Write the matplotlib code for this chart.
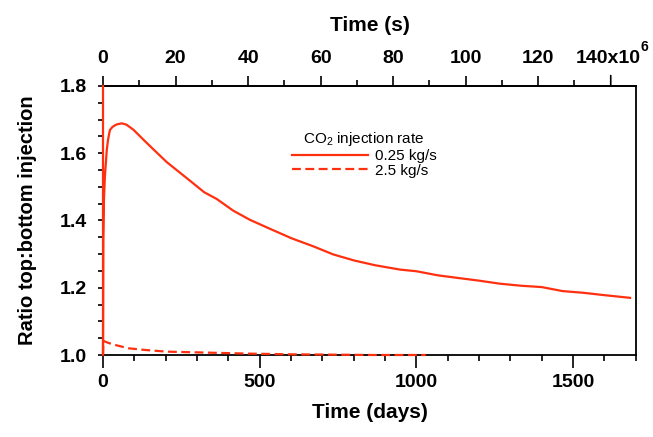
import matplotlib
matplotlib.use("Agg")
import matplotlib.pyplot as plt
from matplotlib.ticker import MultipleLocator, FuncFormatter, FixedLocator

plt.rcParams['font.family'] = ['Liberation Sans', 'DejaVu Sans']
plt.rcParams['mathtext.fontset'] = 'custom'
plt.rcParams['mathtext.rm'] = 'Liberation Sans'
plt.rcParams['mathtext.bf'] = 'Liberation Sans:bold'
plt.rcParams['mathtext.it'] = 'Liberation Sans:italic'

# Data (time in days, ratio top:bottom injection)
t_low = [0, 0, 1, 3, 6, 12, 16, 22, 30, 38, 45, 60, 75, 97, 137, 203, 270, 323, 363,
         416, 469, 536, 602, 669, 735, 802, 868, 948, 1001, 1068, 1134, 1201, 1267,
         1334, 1400, 1467, 1533, 1600, 1682]
r_low = [1.80, 1.00, 1.34, 1.46, 1.53, 1.609, 1.64, 1.669, 1.678, 1.683, 1.686,
         1.689, 1.685, 1.670, 1.633, 1.574, 1.524, 1.484, 1.464, 1.429, 1.402,
         1.374, 1.347, 1.324, 1.299, 1.281, 1.267, 1.254, 1.249, 1.237, 1.229,
         1.221, 1.212, 1.206, 1.202, 1.190, 1.185, 1.178, 1.170]

t_high = [0, 1, 17, 38, 81, 134, 203, 336, 469, 602, 735, 868, 1030]
r_high = [1.00, 1.042, 1.036, 1.030, 1.020, 1.015, 1.010, 1.007, 1.004, 1.002,
          1.001, 1.000, 1.000]

labels = ['0.25 kg/s', '2.5 kg/s']
legend_title = r'$\mathregular{CO_2}$ injection rate'
top_major = [0, 20, 40, 60, 80, 100, 120, 140]   # in units of 1e6 s
top_minor = [10, 30, 50, 70, 90, 110, 130]
top_last_label = '140x10'
top_exponent = '6'
color = '#ff3010'

fig = plt.figure(figsize=(6.53, 4.37), dpi=100)
ax = fig.add_axes([103/653, 1-355/437, 533/653, 269/437])

ax.plot(t_low, r_low, color=color, lw=1.6, label=labels[0], zorder=3, clip_on=False)
ax.plot(t_high, r_high, color=color, lw=1.6, ls=(0, (4, 2)), label=labels[1],
        zorder=3, clip_on=False)

ax.set_xlim(0, 1701)
ax.set_ylim(1.0, 1.8)
ax.xaxis.set_major_locator(MultipleLocator(500))
ax.xaxis.set_minor_locator(MultipleLocator(100))
ax.yaxis.set_major_locator(MultipleLocator(0.2))
ax.yaxis.set_minor_locator(MultipleLocator(0.05))
ax.yaxis.set_major_formatter(FuncFormatter(lambda v, p: f'{v:.1f}'))

for s in ax.spines.values():
    s.set_linewidth(1.3)

ax.tick_params(axis='x', which='major', direction='out', length=9, width=1.2,
               pad=5, labelsize=14, top=False, labeltop=False)
ax.tick_params(axis='x', which='minor', direction='out', length=4.5, width=1.2, top=False)
ax.tick_params(axis='y', which='both', direction='out', length=3.6, width=1.2,
               pad=8, labelsize=14, right=False)
for lab in ax.get_xticklabels() + ax.get_yticklabels():
    lab.set_fontweight('bold')

ax.set_xlabel('Time (days)', fontsize=15, fontweight='bold', labelpad=8)
ax.set_ylabel('Ratio top:bottom injection', fontsize=14.5, fontweight='bold', labelpad=16)

def d2s(d):
    return d * 86400 / 1e6

def s2d(s):
    return s * 1e6 / 86400

sec = ax.secondary_xaxis('top', functions=(d2s, s2d))
sec.xaxis.set_major_locator(FixedLocator(top_major[:-1]))
sec.xaxis.set_minor_locator(FixedLocator(top_minor))
sec.xaxis.set_major_formatter(FuncFormatter(lambda v, p: f'{int(round(v))}'))
sec.tick_params(axis='x', which='major', direction='out', length=7.5, width=1.2,
                pad=6, labelsize=14)
sec.tick_params(axis='x', which='minor', direction='out', length=4, width=1.2)
for lab in sec.get_xticklabels():
    lab.set_fontweight('bold')
sec.set_xlabel('Time (s)', fontsize=15, fontweight='bold', labelpad=14)
sec.spines['top'].set_linewidth(1.3)

# last top tick (140) drawn as a tick mark plus a label with exponent
ax.plot([s2d(top_major[-1])] * 2, [1.0, 1.0], lw=0)
last_x = s2d(top_major[-1])
ax.annotate('', xy=(last_x, 1.0), xycoords=ax.get_xaxis_transform(),
            xytext=(0, 7.5), textcoords='offset points',
            arrowprops=dict(arrowstyle='-', lw=1.2, color='black',
                            shrinkA=0, shrinkB=0),
            annotation_clip=False)
lab140 = ax.annotate(top_last_label, xy=(last_x, 1.0),
                     xycoords=ax.get_xaxis_transform(), xytext=(-2, 13.5),
                     textcoords='offset points', ha='center', va='bottom',
                     fontsize=14, fontweight='bold', annotation_clip=False)
ax.annotate(top_exponent, xy=(1.0, 0.78), xycoords=lab140, fontsize=10,
            fontweight='bold', ha='left', va='bottom', annotation_clip=False)

leg = ax.legend(title=legend_title, loc='center', bbox_to_anchor=(0.49, 0.747),
                frameon=False, fontsize=11, title_fontsize=11, handlelength=5,
                handletextpad=0.4, labelspacing=0.05, borderpad=0.2)

fig.savefig('out.png', dpi=100)
